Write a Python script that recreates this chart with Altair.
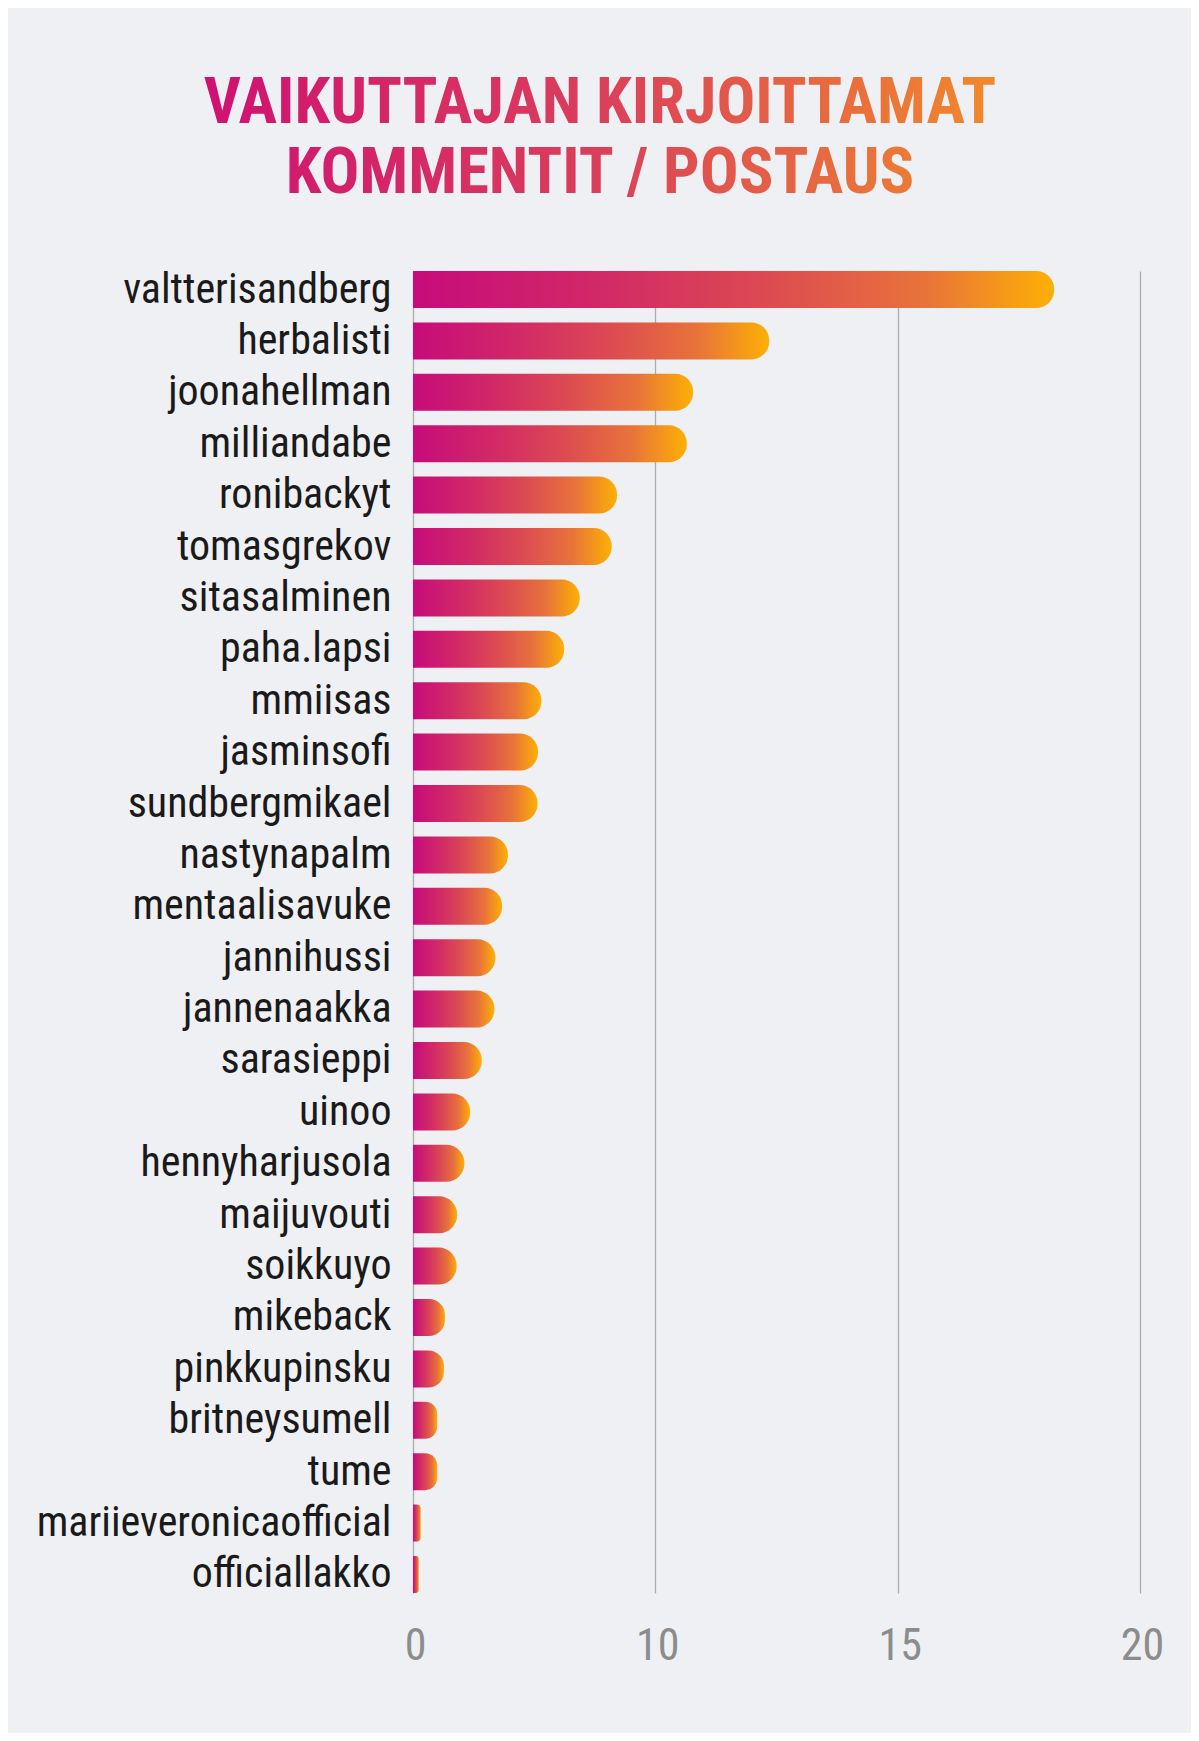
import altair as alt
import pandas as pd

names = [
    "valtterisandberg", "herbalisti", "joonahellman", "milliandabe", "ronibackyt",
    "tomasgrekov", "sitasalminen", "paha.lapsi", "mmiisas", "jasminsofi",
    "sundbergmikael", "nastynapalm", "mentaalisavuke", "jannihussi", "jannenaakka",
    "sarasieppi", "uinoo", "hennyharjusola", "maijuvouti", "soikkuyo",
    "mikeback", "pinkkupinsku", "britneysumell", "tume", "mariieveronicaofficial",
    "officiallakko",
]
values = [
    18.23, 12.35, 10.78, 10.65, 9.21,
    9.10, 8.44, 8.12, 7.65, 7.58,
    7.57, 6.96, 6.84, 6.70, 6.68,
    6.42, 6.18, 6.06, 5.91, 5.90,
    5.66, 5.64, 5.50, 5.50, 5.16,
    5.12,
]
axis_start = 5
tick_values = [5, 10, 15, 20]
tick_labels = ["0", "10", "15", "20"]
title_lines = ["VAIKUTTAJAN KIRJOITTAMAT", "KOMMENTIT / POSTAUS"]

FONT = "'Roboto Condensed', 'Liberation Sans Narrow', 'DejaVu Sans Condensed', Roboto, sans-serif"
BG = "#eff0f4"

df = pd.DataFrame({"name": names, "value": values, "base": [axis_start] * len(names)})

label_expr = " : ".join(
    f"datum.value == {v} ? '{l}'" for v, l in zip(tick_values, tick_labels)
) + " : datum.label"

bar_gradient = alt.Gradient(
    gradient="linear",
    stops=[
        alt.GradientStop(color="#c70b7b", offset=0),
        alt.GradientStop(color="#d22a66", offset=0.3),
        alt.GradientStop(color="#dc4a52", offset=0.55),
        alt.GradientStop(color="#e8733a", offset=0.8),
        alt.GradientStop(color="#fdb004", offset=1),
    ],
    x1=0, x2=1, y1=0, y2=0,
)

bars = alt.Chart(df).mark_bar(
    color=bar_gradient,
    cornerRadiusTopRight=18,
    cornerRadiusBottomRight=18,
).encode(
    y=alt.Y(
        "name:N",
        sort=names,
        scale=alt.Scale(paddingInner=0.28, paddingOuter=0),
        axis=alt.Axis(
            title=None, domain=False, ticks=False, tickSize=0,
            labelFont=FONT, labelFontSize=42, labelColor="#1a1a1a",
            labelPadding=22, labelLimit=420,
        ),
    ),
    x=alt.X(
        "value:Q",
        scale=alt.Scale(domain=[tick_values[0], tick_values[-1]], zero=False, nice=False),
        axis=alt.Axis(
            title=None, domain=False, ticks=False, tickSize=0,
            values=tick_values, labelExpr=label_expr, labelFlush=False,
            labelFont=FONT, labelFontSize=44, labelColor="#8c8c8c",
            labelPadding=31, labelOffset=2, grid=True, gridColor="#a9acb1", gridWidth=1.3,
        ),
    ),
    x2="base:Q",
)

title_gradient = alt.Gradient(
    gradient="linear",
    stops=[
        alt.GradientStop(color="#cf1172", offset=0),
        alt.GradientStop(color="#db3f5a", offset=0.5),
        alt.GradientStop(color="#f08a2c", offset=1),
    ],
    x1=0, x2=1, y1=0, y2=0,
)

title_df = pd.DataFrame({"t": ["\n".join(title_lines)]})
title = alt.Chart(title_df).mark_text(
    color=title_gradient,
    font=FONT,
    fontWeight="bold",
    fontSize=64.5,
    align="center",
    baseline="alphabetic",
    lineBreak="\n",
    lineHeight=70,
).encode(
    text="t:N",
    x=alt.value(187),
    y=alt.value(-148),
)

chart = alt.layer(bars, title).properties(
    width=727,
    height=1322,
    background=BG,
    padding={"left": 405, "top": 263, "right": 51, "bottom": 140},
    autosize=alt.AutoSizeParams(type="none"),
).configure_view(stroke=None)

chart.save("out.html", embed_options={"renderer": "svg", "actions": False})
